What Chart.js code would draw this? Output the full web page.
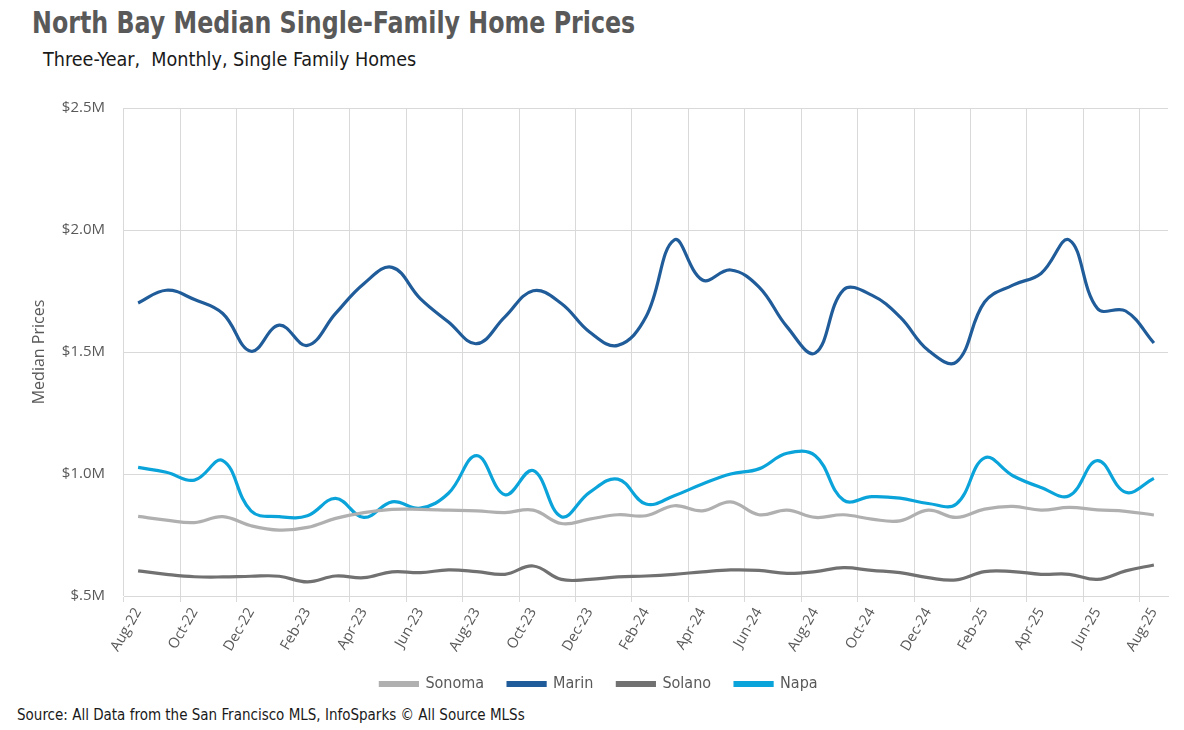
<!DOCTYPE html>
<html>
<head>
<meta charset="utf-8">
<script src="https://cdn.jsdelivr.net/npm/chart.js@4.4.1/dist/chart.umd.min.js"></script>
<style>
  html, body { margin: 0; padding: 0; background: #fff; }
  #page { position: relative; width: 1184px; height: 730px; overflow: hidden; }
  #title { position: absolute; left: 32px; top: 5px; font: bold 30px "DejaVu Sans Condensed", sans-serif; color: #595959; white-space: nowrap; transform-origin: 0 0; transform: scaleX(0.88); }
  #subtitle { position: absolute; left: 43px; top: 48px; font: 19.6px "DejaVu Sans Condensed", sans-serif; color: #1a1a1a; white-space: nowrap; }
  #source { position: absolute; left: 17px; top: 706px; font: 15px "DejaVu Sans Condensed", sans-serif; color: #1a1a1a; white-space: nowrap; }
  #wrap { position: absolute; left: 0; top: 0; width: 1184px; height: 702px; }
</style>
</head>
<body>
<div id="page">
  <div id="title">North Bay Median Single-Family Home Prices</div>
  <div id="subtitle">Three-Year,&nbsp; Monthly, Single Family Homes</div>
  <div id="wrap"><canvas id="priceChart"></canvas></div>
  <div id="source">Source: All Data from the San Francisco MLS, InfoSparks © All Source MLSs</div>
</div>
<script>
/* --------------- Months --------------------- */
const months = [
  "Aug-22", "Sep-22", "Oct-22", "Nov-22", "Dec-22", "Jan-23", "Feb-23", "Mar-23", "Apr-23", "May-23",
  "Jun-23", "Jul-23", "Aug-23", "Sep-23", "Oct-23", "Nov-23", "Dec-23", "Jan-24", "Feb-24", "Mar-24",
  "Apr-24", "May-24", "Jun-24", "Jul-24", "Aug-24", "Sep-24", "Oct-24", "Nov-24", "Dec-24", "Jan-25",
  "Feb-25", "Mar-25", "Apr-25", "May-25", "Jun-25", "Jul-25", "Aug-25"
];

/* --------------- Median prices, $M --------------------- */
const sonoma = [0.826, 0.811, 0.801, 0.825, 0.788, 0.770, 0.781, 0.818, 0.842, 0.855, 0.855, 0.852, 0.849,
  0.842, 0.852, 0.797, 0.815, 0.833, 0.829, 0.870, 0.849, 0.886, 0.833, 0.852, 0.822,
  0.833, 0.815, 0.808, 0.852, 0.822, 0.856, 0.867, 0.852, 0.863, 0.853, 0.847, 0.832];
const marin = [1.701, 1.753, 1.715, 1.658, 1.503, 1.610, 1.527, 1.658, 1.780, 1.847, 1.719, 1.623, 1.534,
  1.644, 1.751, 1.699, 1.582, 1.527, 1.644, 1.959, 1.795, 1.836, 1.767, 1.603, 1.496,
  1.755, 1.733, 1.644, 1.507, 1.459, 1.705, 1.774, 1.822, 1.959, 1.678, 1.668, 1.537];
const solano = [0.603, 0.589, 0.579, 0.578, 0.581, 0.581, 0.558, 0.582, 0.575, 0.599, 0.596, 0.607, 0.600,
  0.589, 0.623, 0.568, 0.568, 0.578, 0.582, 0.589, 0.599, 0.607, 0.605, 0.593, 0.600,
  0.616, 0.605, 0.596, 0.575, 0.566, 0.600, 0.600, 0.589, 0.589, 0.568, 0.603, 0.627];
const napa = [1.027, 1.007, 0.975, 1.055, 0.849, 0.825, 0.829, 0.900, 0.822, 0.886, 0.860, 0.921, 1.075,
  0.915, 1.014, 0.825, 0.925, 0.979, 0.877, 0.911, 0.959, 1.000, 1.021, 1.085, 1.075,
  0.893, 0.907, 0.901, 0.879, 0.877, 1.066, 0.993, 0.945, 0.911, 1.055, 0.925, 0.982];

/* --------------- Y ticks --------------------- */
const yTicks = [0.5, 1.0, 1.5, 2.0, 2.5];
const yTickLabels = ["$.5M", "$1.0M", "$1.5M", "$2.0M", "$2.5M"];

const gridColor = "#d9d9d9";
const textColor = "#595959";

function series(label, data, color) {
  return {
    label: label,
    data: data,
    borderColor: color,
    backgroundColor: color,
    borderWidth: 3.2,
    pointRadius: 0,
    tension: 0.4,
    fill: false,
  };
}

new Chart(document.getElementById("priceChart"), {
  type: "line",
  data: {
    labels: months,
    datasets: [
      series("Sonoma", sonoma, "#b0b0b0"),
      series("Marin", marin, "#1f5c99"),
      series("Solano", solano, "#717171"),
      series("Napa", napa, "#0aa3da"),
    ],
  },
  options: {
    responsive: true,
    maintainAspectRatio: false,
    animation: false,
    layout: { padding: { left: 30, right: 16, top: 108, bottom: 0 } },
    plugins: {
      tooltip: { enabled: false },
      legend: {
        position: "bottom",
        labels: {
          boxWidth: 37,
          boxHeight: 3,
          padding: 24,
          color: textColor,
          font: { family: "'DejaVu Sans Condensed', sans-serif", size: 16 },
        },
      },
    },
    scales: {
      x: {
        offset: true,
        grid: {
          offset: true,
          color: (ctx) => (ctx.index % 2 === 0 ? gridColor : "rgba(0,0,0,0)"),
          tickLength: 6,
          lineWidth: 1,
        },
        border: { display: true, color: gridColor },
        ticks: {
          autoSkip: false,
          maxRotation: 60,
          minRotation: 60,
          padding: 3,
          color: textColor,
          font: { family: "'Open Sans', sans-serif", size: 14.5 },
          callback: (v, i) => (i % 2 === 0 ? months[i] : ""),
        },
        afterFit: (scale) => { scale.height = 56; },
      },
      y: {
        min: 0.5,
        max: 2.5,
        afterBuildTicks: (scale) => { scale.ticks = yTicks.map((v) => ({ value: v })); },
        grid: { color: gridColor, drawTicks: false },
        border: { display: false },
        ticks: {
          padding: 19,
          color: textColor,
          font: { family: "'Open Sans', sans-serif", size: 15 },
          callback: (v) => yTickLabels[yTicks.indexOf(v)],
        },
        title: {
          display: true,
          text: "Median Prices",
          color: textColor,
          font: { family: "'Open Sans', sans-serif", size: 16 },
          padding: 0,
        },
        afterFit: (scale) => { scale.width = 94; },
      },
    },
  },
});
</script>
</body>
</html>
